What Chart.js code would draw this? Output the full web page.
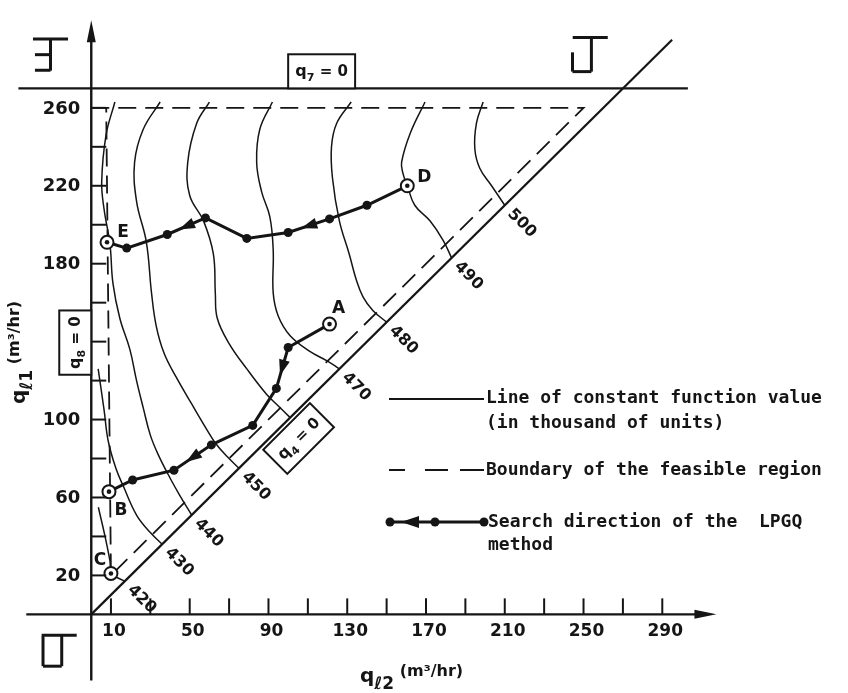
<!DOCTYPE html>
<html>
<head>
  <meta http-equiv="Content-type" content="text/html; charset=utf-8">
  <title>LPGQ search on constant function value lines</title>
  <style>
    body { margin: 0; background: #fff; }
    canvas { display: block; }
  </style>
</head>
<body>
  <canvas id="canvas" width="848" height="693"></canvas>

  <script src="https://cdn.jsdelivr.net/npm/chart.js"></script>

  <script>
    // ---- axis ticks ----
    const xTickMarks  = [10, 30, 50, 70, 90, 110, 130, 150, 170, 190, 210, 230, 250, 270, 290];
    const xTickLabels = [10, 50, 90, 130, 170, 210, 250, 290];
    const yTickMarks  = [20, 40, 60, 80, 100, 120, 140, 160, 180, 200, 220, 240, 260];
    const yTickLabels = [20, 60, 100, 180, 220, 260];

    // ---- lines of constant function value (thousand of units), points [q_l2, q_l1] ----
    const contourLevels = ['420', '430', '440', '450', '460', '470', '480', '490', '500'];
    const c420 = [[3.6, 55], [7, 40], [9.5, 27.5], [10.5, 21], [17, 17]];
    const c430 = [[3.5, 126], [6.5, 105], [8.6, 89], [12.5, 75], [16.2, 66], [23, 51], [30, 42], [36, 36]];
    const c440 = [[12, 263], [7.5, 246], [5.3, 222], [6.5, 208], [9.5, 190], [11, 170], [14.5, 152], [19.6, 136],
                  [23, 120], [26.4, 106], [30, 92], [34, 82], [40, 70], [45, 61], [51, 51]];
    const c450 = [[35, 263], [26.4, 249], [22, 232], [23, 212], [28, 191], [30.6, 165], [33, 148], [37, 134],
                  [43, 122], [51, 108], [58, 96], [63, 88], [69, 81], [75, 75]];
    const c460 = [[60, 263], [53.5, 252], [49, 232], [50, 215], [57, 202], [62, 185], [63, 165], [64, 152],
                  [70, 139], [79, 126], [89, 113], [95, 107], [101, 101]];
    const c470 = [[92, 263], [85.6, 249], [84, 232], [86.5, 217], [90.7, 204], [92.4, 187], [92.4, 165],
                  [95, 153], [101, 143], [111, 135], [120, 130], [126, 126]];
    const c480 = [[132, 263], [124.6, 252], [122, 240], [122.5, 224], [126, 202], [131, 185], [134.5, 172],
                  [138, 163], [143, 156], [150, 150]];
    const c490 = [[169.5, 263], [162, 247], [157.6, 232], [158.4, 226], [160.5, 220], [164.3, 210],
                  [172, 202], [178.7, 192], [183, 183]];
    const c500 = [[199, 263], [195.6, 252], [194.8, 239], [197.3, 229], [203.3, 220], [210, 210]];
    const contours = [c420, c430, c440, c450, c460, c470, c480, c490, c500];

    // ---- constraints ----
    const feasibleBoundary = [[0, 260], [250, 260], [10, 20], [7.6, 260]];
    const lineQ7 = [[-37, 270], [303, 270]];   // q7 = 0
    const lineQ4 = [[0, 0], [295, 295]];       // q4 = 0

    // ---- LPGQ search paths ----
    const pathFromD = [[160.5, 220], [140, 210], [121, 203], [100, 196], [79, 193], [58, 203.5],
                       [38.6, 195], [18, 188], [8, 191]];
    const pathFromA = [[121, 149], [100, 137], [94, 116], [82, 97], [61, 87], [42, 74], [21, 69], [9, 63]];

    // start / end points
    const markNames = ['A', 'B', 'C', 'D', 'E'];
    const markX = [121, 9, 10, 160.5, 8];
    const markY = [149, 63, 21, 220, 191];

    const ink = '#151515';
    const toXY = pts => pts.map(p => ({ x: p[0], y: p[1] }));

    function lineSet(pts, opts) {
      return Object.assign({
        data: toXY(pts),
        showLine: true,
        borderColor: ink,
        borderWidth: 1.6,
        pointRadius: 0,
        fill: false,
        order: 5
      }, opts);
    }

    const marks = markX.map((x, i) => ({ x: x, y: markY[i] }));

    const datasets = [
      // dot inside the start/end circles
      { data: marks, pointRadius: 2.3, pointBackgroundColor: ink, pointBorderWidth: 0, order: 0 },
      { data: marks, pointRadius: 6.5, pointBackgroundColor: '#fff', pointBorderColor: ink, pointBorderWidth: 2, order: 1 },
      lineSet(pathFromD, { borderWidth: 3, pointRadius: 4.5, pointBackgroundColor: ink, pointBorderWidth: 0, order: 2 }),
      lineSet(pathFromA, { borderWidth: 3, pointRadius: 4.5, pointBackgroundColor: ink, pointBorderWidth: 0, order: 2 }),
      lineSet(feasibleBoundary, { borderWidth: 1.8, borderDash: [18, 9] }),
      lineSet(lineQ7, { borderWidth: 2.2 }),
      lineSet(lineQ4, { borderWidth: 2.2 }),
      // axes
      lineSet([[-33, 0], [307, 0]], { borderWidth: 2.4 }),
      lineSet([[0, -34], [0, 295]], { borderWidth: 2.4 })
    ];
    contours.forEach(c => datasets.push(lineSet(c, { tension: 0.4, borderWidth: 1.5 })));

    // draw a run of text pieces (for subscripts), starting at x
    function runWidth(c, runs) {
      let w = 0;
      runs.forEach(r => { c.font = 'bold ' + r.s + 'px "DejaVu Sans"'; w += c.measureText(r.t).width; });
      return w;
    }
    function drawRuns(c, x, y, runs) {
      runs.forEach(r => {
        c.font = 'bold ' + r.s + 'px "DejaVu Sans"';
        c.fillText(r.t, x, y + (r.dy || 0));
        x += c.measureText(r.t).width;
      });
    }
    // box with a label; w runs along the text, h across it
    function boxLabel(c, cx, cy, w, h, angle, runs) {
      c.save();
      c.translate(cx, cy);
      c.rotate(angle);
      c.fillStyle = '#fff';
      c.fillRect(-w / 2, -h / 2, w, h);
      c.lineWidth = 2;
      c.strokeRect(-w / 2, -h / 2, w, h);
      c.fillStyle = ink;
      c.textAlign = 'left';
      c.textBaseline = 'alphabetic';
      drawRuns(c, -runWidth(c, runs) / 2, 5, runs);
      c.restore();
    }
    function seg(c, x1, y1, x2, y2) {
      c.beginPath(); c.moveTo(x1, y1); c.lineTo(x2, y2); c.stroke();
    }
    function tri(c, tipX, tipY, dx, dy, len, half) {
      // filled triangle pointing along (dx, dy)
      const n = Math.hypot(dx, dy); dx /= n; dy /= n;
      const bx = tipX - dx * len, by = tipY - dy * len;
      c.beginPath();
      c.moveTo(tipX, tipY);
      c.lineTo(bx - dy * half, by + dx * half);
      c.lineTo(bx + dy * half, by - dx * half);
      c.closePath();
      c.fill();
    }

    const paperPlugin = {
      id: 'paper',
      beforeDraw(chart) {
        const c = chart.ctx;
        c.save();
        c.fillStyle = '#fff';
        c.fillRect(0, 0, chart.width, chart.height);
        c.restore();
      },
      afterDatasetsDraw(chart) {
        const c = chart.ctx;
        const X = v => chart.scales.x.getPixelForValue(v);
        const Y = v => chart.scales.y.getPixelForValue(v);
        c.save();
        c.strokeStyle = ink;
        c.fillStyle = ink;

        // axis arrow heads
        tri(c, X(0), Y(305), 0, -1, 22, 4.5);
        tri(c, X(317.5), Y(0), 1, 0, 22, 4.5);

        // tick marks
        c.lineWidth = 2;
        xTickMarks.forEach(v => seg(c, X(v), Y(0), X(v), Y(0) - 16));
        yTickMarks.forEach(v => seg(c, X(0), Y(v), X(0) + 15, Y(v)));

        // tick labels
        c.textBaseline = 'middle';
        c.textAlign = 'center';
        c.font = 'bold 17px "DejaVu Sans"';
        xTickLabels.forEach(v => c.fillText(String(v), X(v) + 3, Y(0) + 17));
        c.textAlign = 'right';
        c.font = 'bold 18px "DejaVu Sans"';
        yTickLabels.forEach(v => c.fillText(String(v), X(0) - 11, Y(v) + 1));

        // axis titles
        c.textAlign = 'left';
        c.textBaseline = 'alphabetic';
        const titleX = [{ t: 'q', s: 20 }, { t: 'ℓ2', s: 17, dy: 7 }, { t: ' (m³/hr)', s: 16, dy: -6 }];
        const titleY = [{ t: 'q', s: 20 }, { t: 'ℓ1', s: 17, dy: 7 }, { t: ' (m³/hr)', s: 16, dy: -6 }];
        drawRuns(c, 360, 682, titleX);
        c.save();
        c.translate(25, 404);
        c.rotate(-Math.PI / 2);
        drawRuns(c, 0, 0, titleY);
        c.restore();

        // region marks in the corners
        c.lineWidth = 3;
        const glyphs = [
          [[-29.6, 295.4, -11.8, 295.4], [-20.7, 295.4, -20.7, 279.1], [-28.6, 287.3, -20.7, 287.3], [-28.6, 279.3, -20.7, 279.3]],
          [[244.5, 296.1, 262.3, 296.1], [254, 296.1, 254, 278.6], [244.4, 288.5, 244.4, 278.6], [244.4, 278.6, 254, 278.6]],
          [[-25.2, -10.7, -7.4, -10.7], [-15, -10.7, -15, -26.6], [-24.5, -11.2, -24.5, -26.6], [-24.5, -26.6, -15, -26.6]]
        ];
        glyphs.forEach(g => g.forEach(s => seg(c, X(s[0]), Y(s[1]), X(s[2]), Y(s[3]))));

        // constraint boxes
        const sub = n => [{ t: 'q', s: 16 }, { t: n, s: 11, dy: 5 }, { t: ' = 0', s: 15 }];
        boxLabel(c, (X(100) + X(134)) / 2, (Y(270) + Y(287.5)) / 2, X(134) - X(100), Y(270) - Y(287.5), 0, sub('7'));
        boxLabel(c, X(0) - 16, (Y(123) + Y(156)) / 2, Y(123) - Y(156), 32, -Math.PI / 2, sub('8'));
        boxLabel(c, X(105.3), Y(90.3), 66, 34, -Math.PI / 4, sub('4'));

        // contour values along the q4 = 0 line
        c.font = 'bold 16px "DejaVu Sans"';
        c.textAlign = 'center';
        c.textBaseline = 'middle';
        contours.forEach((pts, i) => {
          if (contourLevels[i] === '460') return;   // hidden by the q4 box
          const end = pts[pts.length - 1];
          c.save();
          c.translate(X(end[0]) + 17, Y(end[1]) + 18);
          c.rotate(Math.PI / 4);
          c.fillText(contourLevels[i], 0, 0);
          c.restore();
        });

        // arrows on the search paths
        const arrowAt = [[pathFromD, 2], [pathFromD, 5], [pathFromA, 1], [pathFromA, 4]];
        arrowAt.forEach(([p, k]) => {
          const x1 = X(p[k][0]), y1 = Y(p[k][1]), x2 = X(p[k + 1][0]), y2 = Y(p[k + 1][1]);
          const mx = (x1 + x2) / 2, my = (y1 + y2) / 2;
          const dx = x2 - x1, dy = y2 - y1, n = Math.hypot(dx, dy);
          tri(c, mx + dx / n * 8, my + dy / n * 8, dx, dy, 16, 5.5);
        });

        // point letters
        const letterOff = { A: [9, -16], B: [12, 19], C: [-11, -13], D: [17, -8], E: [16, -10] };
        c.font = 'bold 17px "DejaVu Sans"';
        markNames.forEach((n, i) => {
          c.fillText(n, X(markX[i]) + letterOff[n][0], Y(markY[i]) + letterOff[n][1]);
        });

        // legend
        c.textAlign = 'left';
        c.font = 'bold 18px "DejaVu Sans Mono"';
        c.lineWidth = 2;
        seg(c, 389, 399, 484, 399);
        c.fillText('Line of constant function value', 486, 398);
        c.fillText('(in thousand of units)', 486, 423);

        [[389, 405], [425, 448], [460, 484]].forEach(d => seg(c, d[0], 470, d[1], 470));
        c.fillText('Boundary of the feasible region', 486, 470);

        c.lineWidth = 3;
        seg(c, 390, 522, 484, 522);
        [390, 435, 484].forEach(x => { c.beginPath(); c.arc(x, 522, 4.5, 0, Math.PI * 2); c.fill(); });
        tri(c, 401, 522, -1, 0, 18, 6);
        c.fillText('Search direction of the  LPGQ', 488, 522);
        c.fillText('method', 488, 545);

        c.restore();
      }
    };

    const chart = new Chart(document.getElementById('canvas').getContext('2d'), {
      type: 'scatter',
      data: { datasets: datasets },
      options: {
        responsive: false,
        animation: false,
        devicePixelRatio: 1,
        layout: { padding: { left: 12.5, right: 8.1, top: 1.4, bottom: 1.9 } },
        scales: {
          x: { type: 'linear', min: -40, max: 380, display: false },
          y: { type: 'linear', min: -36, max: 311, display: false }
        },
        plugins: {
          legend: { display: false },
          tooltip: { enabled: false }
        }
      },
      plugins: [paperPlugin]
    });
  </script>
</body>
</html>
